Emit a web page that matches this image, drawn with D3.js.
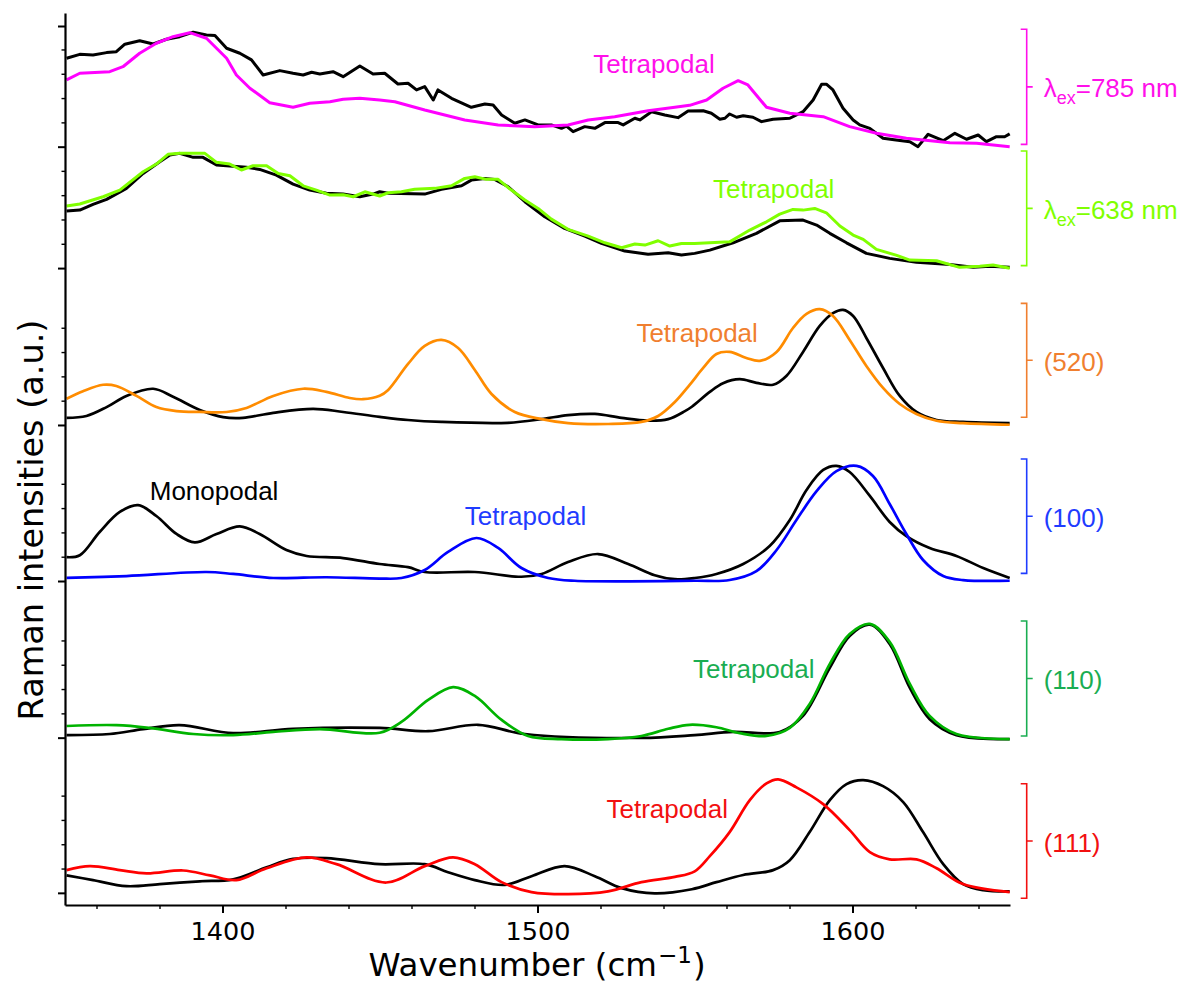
<!DOCTYPE html>
<html><head><meta charset="utf-8">
<script src="https://cdn.jsdelivr.net/npm/d3@7"></script>
<style>body{margin:0;background:#fff}</style>
</head><body>
<svg id="chart" width="1187" height="986"></svg>
<script>
// ---------------- data ----------------
const xMajorTicks = [1400, 1500, 1600];
const xMinorTicks = [1360,1380,1420,1440,1460,1480,1520,1540,1560,1580,1620,1640];
// panel baselines (a.u., stacked), bottom to top
const panelOffsets = [0, 1.277, 2.566, 3.850, 5.141, 6.140];
const topMajorTick = 7.133;
const minorStep = 0.2;

// spectra: [wavenumber, relative intensity (a.u.)]
const ref785 = [[1350.5,.728],[1354.7,.760],[1358.9,.755],[1363.2,.774],[1366.3,.782],[1369.0,.843],[1373.7,.872],[1378.0,.845],[1382.2,.884],[1386.4,.905],[1390.7,.942],[1394.9,.919],[1397.6,.914],[1401.3,.810],[1405.5,.769],[1409.2,.714],[1412.9,.590],[1418.2,.626],[1422.4,.604],[1425.6,.590],[1428.3,.612],[1430.9,.598],[1435.1,.617],[1438.3,.576],[1443.6,.664],[1447.8,.598],[1451.5,.604],[1455.7,.516],[1458.9,.522],[1461.6,.467],[1464.2,.494],[1466.9,.384],[1468.4,.467],[1472.7,.398],[1479.0,.324],[1483.3,.351],[1485.9,.343],[1488.6,.261],[1492.8,.193],[1496.0,.220],[1500.2,.179],[1504.4,.179],[1507.6,.151],[1509.2,.170],[1511.3,.123],[1515.0,.165],[1518.2,.151],[1521.4,.198],[1525.6,.198],[1527.2,.179],[1530.9,.234],[1532.5,.220],[1536.2,.288],[1540.4,.261],[1544.6,.239],[1547.8,.294],[1552.6,.296],[1555.2,.275],[1557.9,.226],[1559.5,.234],[1561.0,.269],[1563.2,.242],[1565.3,.255],[1568.4,.242],[1571.1,.206],[1574.8,.226],[1580.1,.234],[1584.3,.288],[1587.5,.384],[1590.2,.514],[1591.7,.514],[1593.8,.467],[1597.0,.316],[1600.2,.220],[1602.3,.179],[1605.5,.151],[1609.7,.069],[1613.8,.055],[1618.2,.041],[1620.8,.000],[1624.0,.102],[1628.8,.049],[1632.5,.110],[1636.2,.061],[1639.9,.096],[1642.5,.041],[1645.7,.082],[1648.3,.082],[1649.9,.105]];
const tet785 = [[1350.5,.549],[1354.7,.604],[1364.2,.617],[1368.4,.658],[1373.7,.769],[1379.0,.851],[1384.3,.905],[1389.6,.938],[1394.9,.892],[1398.1,.810],[1401.3,.728],[1404.4,.590],[1408.7,.481],[1415.0,.362],[1422.4,.324],[1427.7,.357],[1434.1,.370],[1438.3,.390],[1443.6,.398],[1449.9,.384],[1454.7,.370],[1464.2,.302],[1476.9,.220],[1487.5,.179],[1499.1,.165],[1509.7,.179],[1516.1,.220],[1524.5,.247],[1535.1,.296],[1543.6,.324],[1548.3,.340],[1553.7,.384],[1558.9,.481],[1563.7,.543],[1566.8,.508],[1572.7,.324],[1580.1,.275],[1590.7,.247],[1599.1,.165],[1607.6,.110],[1617.1,.069],[1630.9,.033],[1639.4,.028],[1649.9,.000]];

const ref638 = [[1350.5,.469],[1354.7,.477],[1358.9,.524],[1363.2,.565],[1369.5,.656],[1374.8,.779],[1380.1,.875],[1383.3,.930],[1386.4,.944],[1390.7,.911],[1393.8,.911],[1398.1,.848],[1402.3,.840],[1407.6,.829],[1411.8,.812],[1417.1,.765],[1422.4,.691],[1427.7,.642],[1433.0,.615],[1438.3,.609],[1443.6,.587],[1447.8,.609],[1449.9,.628],[1452.6,.615],[1464.2,.609],[1469.5,.648],[1475.9,.677],[1479.0,.724],[1483.3,.738],[1486.4,.730],[1490.7,.669],[1496.0,.546],[1502.3,.422],[1508.6,.327],[1515.0,.263],[1520.3,.203],[1527.7,.140],[1535.1,.113],[1541.5,.126],[1545.7,.107],[1549.9,.121],[1554.7,.148],[1562.1,.208],[1569.5,.286],[1576.9,.389],[1584.3,.395],[1588.6,.354],[1592.8,.286],[1598.1,.208],[1604.4,.121],[1611.8,.080],[1620.3,.047],[1630.9,.030],[1638.3,.006],[1643.6,.016],[1649.9,.006]];
const tet638 = [[1350.5,.510],[1354.7,.527],[1362.1,.587],[1367.4,.642],[1374.8,.793],[1379.0,.856],[1382.7,.936],[1386.4,.944],[1390.7,.944],[1394.4,.944],[1398.1,.870],[1402.3,.856],[1406.0,.807],[1409.7,.842],[1414.0,.842],[1417.7,.779],[1421.4,.760],[1425.6,.677],[1429.8,.642],[1434.1,.601],[1438.3,.603],[1441.5,.587],[1445.2,.628],[1449.9,.593],[1452.6,.620],[1456.8,.628],[1461.0,.648],[1467.4,.656],[1472.7,.677],[1476.9,.738],[1480.1,.751],[1483.8,.730],[1487.5,.730],[1491.7,.642],[1496.0,.560],[1500.2,.491],[1504.4,.403],[1509.7,.319],[1516.1,.263],[1521.4,.208],[1526.7,.167],[1530.9,.198],[1534.1,.189],[1538.3,.225],[1542.0,.181],[1545.7,.203],[1549.9,.203],[1561.0,.216],[1567.4,.313],[1572.7,.381],[1576.9,.444],[1581.1,.483],[1584.3,.477],[1588.0,.491],[1591.7,.455],[1596.0,.346],[1600.2,.272],[1603.4,.236],[1607.6,.154],[1613.8,.107],[1618.2,.066],[1626.7,.060],[1634.0,.006],[1640.4,.016],[1644.6,.025],[1649.9,-.002]];

const ref520 = [[1350.5,.058],[1356.8,.074],[1363.2,.147],[1369.5,.239],[1378.0,.298],[1384.3,.232],[1392.8,.123],[1400.2,.064],[1406.5,.058],[1416.1,.100],[1428.8,.133],[1438.3,.107],[1449.9,.067],[1458.9,.041],[1469.5,.025],[1490.7,.018],[1501.3,.048],[1509.7,.081],[1518.2,.091],[1526.7,.058],[1535.1,.035],[1541.5,.048],[1546.8,.114],[1549.0,.150],[1554.7,.272],[1558.9,.344],[1564.2,.377],[1569.5,.347],[1574.8,.331],[1579.0,.403],[1584.3,.601],[1589.6,.815],[1593.8,.920],[1597.0,.947],[1600.2,.897],[1604.4,.716],[1609.7,.469],[1615.0,.239],[1620.3,.107],[1626.7,.041],[1635.1,.025],[1649.9,.015]];
const tet520 = [[1350.5,.216],[1355.7,.278],[1362.1,.331],[1366.3,.321],[1372.7,.239],[1379.0,.147],[1385.4,.114],[1392.8,.107],[1401.3,.107],[1407.6,.140],[1416.1,.239],[1425.6,.298],[1433.0,.272],[1440.4,.222],[1444.6,.212],[1449.9,.240],[1452.6,.288],[1458.9,.502],[1464.2,.650],[1469.5,.700],[1474.8,.634],[1480.1,.453],[1485.4,.255],[1492.8,.107],[1501.3,.048],[1509.7,.015],[1522.4,.008],[1533.0,.025],[1538.3,.074],[1543.6,.189],[1548.3,.330],[1552.6,.469],[1556.8,.584],[1561.0,.601],[1566.3,.551],[1570.6,.528],[1575.9,.601],[1581.1,.798],[1585.4,.914],[1589.6,.953],[1593.8,.897],[1599.1,.700],[1604.4,.486],[1609.7,.305],[1615.0,.173],[1620.3,.091],[1626.7,.035],[1635.1,.015],[1649.9,.002]];

const ref100 = [[1350.5,.196],[1354.7,.212],[1361.0,.403],[1367.4,.568],[1373.2,.624],[1379.0,.535],[1385.4,.387],[1391.2,.318],[1398.1,.387],[1405.5,.449],[1411.8,.387],[1420.3,.255],[1426.7,.206],[1438.3,.189],[1449.9,.140],[1458.9,.114],[1464.2,.074],[1480.1,.074],[1494.9,.035],[1501.3,.058],[1509.7,.156],[1519.2,.222],[1528.8,.140],[1537.2,.048],[1543.6,.015],[1549.9,.025],[1556.8,.058],[1565.3,.140],[1573.7,.288],[1580.1,.502],[1585.4,.749],[1590.7,.914],[1594.9,.947],[1599.1,.897],[1605.5,.700],[1611.8,.486],[1617.1,.370],[1624.5,.272],[1633.0,.206],[1641.5,.107],[1649.9,.025]];
const tet100 = [[1350.5,.025],[1369.5,.041],[1394.9,.074],[1403.4,.058],[1416.1,.025],[1433.0,.031],[1449.9,.020],[1456.8,.025],[1464.2,.091],[1471.6,.239],[1480.6,.354],[1487.5,.272],[1494.9,.107],[1503.4,.025],[1511.8,.002],[1549.9,.002],[1561.0,.008],[1569.5,.081],[1575.9,.255],[1582.2,.502],[1588.6,.739],[1594.9,.904],[1601.3,.947],[1606.5,.864],[1611.8,.634],[1617.1,.387],[1622.4,.173],[1628.8,.041],[1635.1,.008],[1649.9,.002]];

const ref110 = [[1350.5,.021],[1364.2,.030],[1374.8,.070],[1386.4,.103],[1403.4,.037],[1422.4,.073],[1449.9,.080],[1465.3,.053],[1481.1,.106],[1496.0,.030],[1533.0,-.002],[1549.9,.021],[1562.1,.047],[1576.9,.047],[1584.3,.179],[1592.8,.574],[1599.1,.837],[1605.5,.929],[1611.8,.771],[1618.2,.409],[1624.5,.152],[1633.0,.021],[1649.9,-.012]];
const tet110 = [[1350.5,.096],[1366.3,.103],[1376.9,.080],[1390.7,.030],[1403.4,.021],[1416.1,.047],[1430.9,.070],[1449.9,.040],[1456.8,.129],[1465.3,.310],[1473.2,.416],[1480.1,.343],[1488.6,.146],[1497.0,.014],[1507.6,-.012],[1522.4,-.012],[1533.0,.014],[1541.5,.073],[1548.3,.106],[1556.8,.086],[1564.2,.037],[1572.7,.014],[1580.1,.080],[1586.4,.277],[1592.8,.607],[1599.1,.853],[1605.5,.936],[1611.8,.788],[1618.2,.442],[1624.5,.179],[1633.0,.030],[1649.9,-.012]];

const ref111 = [[1350.5,.144],[1358.9,.105],[1369.5,.055],[1380.1,.072],[1392.8,.095],[1403.4,.111],[1414.0,.210],[1422.4,.279],[1433.0,.286],[1449.9,.236],[1464.2,.236],[1471.6,.170],[1480.1,.105],[1489.6,.065],[1498.1,.137],[1508.6,.220],[1518.2,.137],[1526.7,.039],[1537.2,-.004],[1549.0,.030],[1556.8,.088],[1565.3,.147],[1574.8,.187],[1580.1,.269],[1586.4,.500],[1592.8,.763],[1598.1,.895],[1603.4,.928],[1609.7,.878],[1616.1,.747],[1622.4,.500],[1628.8,.236],[1635.1,.072],[1641.5,.022],[1649.9,.012]];
const tet111 = [[1350.5,.187],[1357.9,.220],[1367.4,.187],[1375.9,.160],[1387.5,.184],[1396.0,.144],[1404.4,.105],[1414.0,.203],[1426.7,.292],[1436.2,.236],[1452.0,.085],[1464.2,.220],[1473.2,.292],[1480.1,.236],[1488.6,.088],[1498.1,.006],[1509.7,-.011],[1522.4,.012],[1533.0,.088],[1543.6,.131],[1549.9,.177],[1554.7,.302],[1561.0,.500],[1567.4,.763],[1572.7,.901],[1576.4,.934],[1582.2,.868],[1590.7,.730],[1599.1,.516],[1605.5,.335],[1611.8,.276],[1620.3,.276],[1626.7,.203],[1635.1,.072],[1649.9,.006]];

const panelLabels = ["(111)", "(110)", "(100)", "(520)", "638", "785"];
const lineColors  = ["#ff0000", "#00b300", "#0000ff", "#ff8c00", "#80ff00", "#ff00ff"];
const textColors  = ["#f21010", "#1aad52", "#1f3cff", "#f07f2f", "#80ff00", "#ff10ea"];
const refSeries   = [ref111, ref110, ref100, ref520, ref638, ref785];
const tetSeries   = [tet111, tet110, tet100, tet520, tet638, tet785];
const smoothPanel = [true, true, true, true, false, false];
const bracketLo   = [-0.045, 1.291, 2.629, 3.913, 5.161, 6.159];
const bracketHi   = [0.898, 2.237, 3.570, 4.851, 6.104, 7.106];
// annotation anchors [wavenumber, stacked a.u.]
const tetraAnchors = [[1521.9,0.616],[1549.4,1.768],[1476.9,3.028],[1531.4,4.533],[1555.7,5.715],[1517.7,6.744]];
const monoAnchor = [1376.9, 3.233];

// ---------------- chart ----------------
const svg = d3.select("#chart");
const x = d3.scaleLinear().domain([1350, 1650]).range([65, 1010]);
const y = d3.scaleLinear().domain([-0.1, 7.24]).range([905, 13]);

const majorY = panelOffsets.concat([topMajorTick]);
const minorY = [];
panelOffsets.forEach(o => { for (let k = 1; k <= 4; k++) minorY.push(o + k * minorStep); });

// spectra
panelOffsets.forEach((off, i) => {
  const line = d3.line()
    .x(d => x(d[0])).y(d => y(off + d[1]))
    .curve(smoothPanel[i] ? d3.curveCatmullRom.alpha(0.5) : d3.curveLinear);
  const sw = smoothPanel[i] ? 2.7 : 3;
  svg.append("path").datum(refSeries[i]).attr("d", line)
    .attr("fill", "none").attr("stroke", "#000").attr("stroke-width", sw)
    .attr("stroke-linejoin", "round");
  svg.append("path").datum(tetSeries[i]).attr("d", line)
    .attr("fill", "none").attr("stroke", lineColors[i]).attr("stroke-width", sw)
    .attr("stroke-linejoin", "round");
});

// axes
const gy = svg.append("g").attr("transform", `translate(${x.range()[0]},0)`);
gy.call(d3.axisLeft(y).tickValues(majorY).tickSize(7).tickSizeOuter(0).tickFormat(""));
gy.select(".domain").attr("stroke-width", 2.2);
gy.selectAll(".tick line").attr("stroke-width", 2);
const gym = svg.append("g").attr("transform", `translate(${x.range()[0]},0)`);
gym.call(d3.axisLeft(y).tickValues(minorY).tickSize(3.5).tickFormat(""));
gym.select(".domain").remove();
gym.selectAll(".tick line").attr("stroke-width", 1.4);

const gx = svg.append("g").attr("transform", `translate(0,${y.range()[0]})`);
gx.call(d3.axisBottom(x).tickValues(xMajorTicks).tickSize(8).tickSizeOuter(0).tickFormat(d3.format("d")));
gx.select(".domain").attr("stroke-width", 2.2);
gx.selectAll(".tick line").attr("stroke-width", 2);
gx.selectAll(".tick text").attr("y", 35).attr("dy", null)
  .attr("font-family", "DejaVu Sans").attr("font-size", 25.5).attr("fill", "#000");
const gxm = svg.append("g").attr("transform", `translate(0,${y.range()[0]})`);
gxm.call(d3.axisBottom(x).tickValues(xMinorTicks).tickSize(4).tickFormat(""));
gxm.select(".domain").remove();
gxm.selectAll(".tick line").attr("stroke-width", 1.4);

// axis titles (x title built from three pieces laid side by side)
const titleFont = "DejaVu Sans";
const xt1 = svg.append("text").attr("y", 976).attr("font-family", titleFont).attr("font-size", 32.5).text("Wavenumber (cm");
const xt2 = svg.append("text").attr("y", 963).attr("font-family", titleFont).attr("font-size", 23).text("−1");
const xt3 = svg.append("text").attr("y", 976).attr("font-family", titleFont).attr("font-size", 32.5).text(")");
const w1 = xt1.node().getComputedTextLength(), w2 = xt2.node().getComputedTextLength(), w3 = xt3.node().getComputedTextLength();
const xStart = 537 - (w1 + w2 + w3 + 2) / 2;
xt1.attr("x", xStart);
xt2.attr("x", xStart + w1 + 1);
xt3.attr("x", xStart + w1 + w2 + 2);

svg.append("text").attr("transform", "translate(43,520) rotate(-90)")
  .attr("text-anchor", "middle").attr("font-family", titleFont).attr("font-size", 33.5)
  .text("Raman intensities (a.u.)");

// annotations
const annFont = "Liberation Sans, Arial, sans-serif";
tetraAnchors.forEach((a, i) => {
  svg.append("text").attr("x", x(a[0])).attr("y", y(a[1]))
    .attr("font-family", annFont).attr("font-size", 26).attr("fill", textColors[i])
    .text("Tetrapodal");
});
svg.append("text").attr("x", x(monoAnchor[0])).attr("y", y(monoAnchor[1]))
  .attr("font-family", annFont).attr("font-size", 26).attr("fill", "#000")
  .text("Monopodal");

// right-side brackets and labels
const bx = x.range()[1] + 16.7;
panelOffsets.forEach((off, i) => {
  const top = y(bracketHi[i]), bot = y(bracketLo[i]), mid = (top + bot) / 2;
  svg.append("path")
    .attr("d", `M${bx - 6},${top}H${bx}V${bot}H${bx - 6}M${bx},${mid}H${bx + 6}`)
    .attr("fill", "none").attr("stroke", textColors[i]).attr("stroke-width", 1.6);
  const t = svg.append("text").attr("x", bx + 17).attr("y", mid + 10.5)
    .attr("font-family", annFont).attr("font-size", 26).attr("fill", textColors[i]);
  if (i >= 4) {
    t.append("tspan").text("λ");
    t.append("tspan").attr("font-size", 18).attr("dy", 7).text("ex");
    t.append("tspan").attr("dy", -7).text("=" + panelLabels[i] + " nm");
  } else {
    t.text(panelLabels[i]);
  }
});
</script>
</body></html>
